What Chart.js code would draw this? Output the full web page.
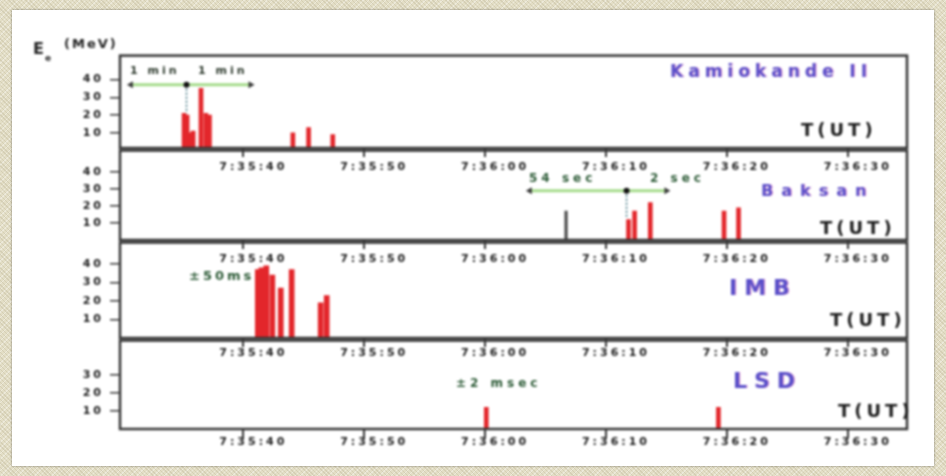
<!DOCTYPE html>
<html>
<head>
<meta charset="utf-8">
<script src="https://cdn.jsdelivr.net/npm/chart.js@4.4.1/dist/chart.umd.min.js"></script>
<style>
  html, body { margin: 0; padding: 0; }
  body {
    width: 946px; height: 476px; overflow: hidden; position: relative;
    background-color: #e3dec6;
    background-image:
      repeating-linear-gradient(45deg, rgba(140,128,90,0.16) 0 1px, transparent 1px 3px),
      repeating-linear-gradient(-45deg, rgba(255,255,255,0.35) 0 1px, transparent 1px 4px);
  }
  #card {
    position: absolute; left: 12px; top: 10px; width: 922px; height: 456px;
    background: #fff; box-shadow: 0 0 2px rgba(0,0,0,0.45);
  }
  #plot { position: absolute; left: 0; top: 0; width: 946px; height: 476px; filter: blur(0.9px); }
  .pane { position: absolute; left: 0; width: 946px; }
  .txt {
    position: absolute; white-space: nowrap; transform: translateY(-50%);
    font-family: "DejaVu Sans", sans-serif; font-weight: bold; line-height: 1;
  }
  .det { color: #5a4fc9; text-shadow: 1px 0 0 rgba(205,70,170,0.55); }
  .tut { color: #1e1e1e; font-size: 18px; letter-spacing: 4px; }
  .unc { color: #2c5a36; }
</style>
</head>
<body>
<div id="card"></div>
<div id="plot">
  <div class="pane" id="p0"><canvas id="c0"></canvas></div>
  <div class="pane" id="p1"><canvas id="c1"></canvas></div>
  <div class="pane" id="p2"><canvas id="c2"></canvas></div>
  <div class="pane" id="p3"><canvas id="c3"></canvas></div>

  <div class="txt" style="left:33px;top:49px;font-size:16px;color:#222;">E</div>
  <div class="txt" style="left:45px;top:58px;font-size:9px;color:#222;">e</div>
  <div class="txt" style="left:64px;top:43px;font-size:13px;color:#222;letter-spacing:2px;">(MeV)</div>

  <div class="txt" style="left:130px;top:70px;font-size:11px;color:#2f3b2f;letter-spacing:3px;">1 min</div>
  <div class="txt" style="left:198px;top:70px;font-size:11px;color:#2f3b2f;letter-spacing:3px;">1 min</div>
  <div class="txt det" style="left:670px;top:71px;font-size:17px;letter-spacing:5px;">Kamiokande II</div>
  <div class="txt tut" style="left:801px;top:130px;">T(UT)</div>

  <div class="txt unc" style="left:529px;top:178px;font-size:12px;letter-spacing:4px;">54 sec</div>
  <div class="txt unc" style="left:650px;top:178px;font-size:12px;letter-spacing:4px;">2 sec</div>
  <div class="txt det" style="left:761px;top:191px;font-size:16px;letter-spacing:8px;">Baksan</div>
  <div class="txt tut" style="left:820px;top:228px;">T(UT)</div>

  <div class="txt unc" style="left:189px;top:275px;font-size:13px;letter-spacing:3px;">±50ms</div>
  <div class="txt det" style="left:729px;top:288px;font-size:22px;letter-spacing:7px;">IMB</div>
  <div class="txt tut" style="left:830px;top:320px;">T(UT)</div>

  <div class="txt unc" style="left:456px;top:383px;font-size:12px;letter-spacing:4px;">±2 msec</div>
  <div class="txt det" style="left:733px;top:381px;font-size:22px;letter-spacing:7px;">LSD</div>
  <div class="txt tut" style="left:838px;top:411px;">T(UT)</div>
</div>

<script>
// Time axis: seconds after 7:35:00 UT
const tickSeconds = [40, 50, 60, 70, 80, 90];
const tickLabels = ["7:35:40", "7:35:50", "7:36:00", "7:36:10", "7:36:20", "7:36:30"];

// Kamiokande II events (s, MeV)
const kamTimes  = [35.1, 35.35, 35.6, 35.85, 36.5, 36.9, 37.2, 44.1, 45.4, 47.4];
const kamEnergy = [21, 20, 10, 11, 35, 21, 20, 10, 13, 9];
// Baksan events
const baksanTimes  = [71.7, 72.2, 73.5, 79.6, 80.8];
const baksanEnergy = [12, 17, 22, 17, 19];
const baksanBgTimes  = [66.8];
const baksanBgEnergy = [17];
// IMB events
const imbTimes  = [41.2, 41.5, 41.9, 42.4, 43.1, 44.0, 46.4, 46.9];
const imbEnergy = [37, 38, 39, 34, 27, 37, 19, 23];
// LSD events
const lsdTimes  = [60.1, 79.3];
const lsdEnergy = [12, 12];

// Clock uncertainty: [earliest, recorded, latest] and the energy level it is drawn at
const kamClock = [30.7, 35.3, 40.6];
const kamClockLevel = 37;
const kamClockDrop = 21;
const baksanClock = [63.7, 71.7, 75.0];
const baksanClockLevel = 29;
const baksanClockDrop = 13;

// Energy tick values per detector
const kamYTicks = [10, 20, 30, 40];
const baksanYTicks = [10, 20, 30, 40];
const imbYTicks = [10, 20, 30, 40];
const lsdYTicks = [10, 20, 30];

// ---- layout ----
const X_MIN = 29.8, X_MAX = 94.9;
const PAD_TOP = 10, X_AXIS_H = 30;
const panels = [
  { id: 0, top: 53,  bottom: 148, yMin: 1.5, yMax: 53.4, ticks: kamYTicks,    labelPad: 4 },
  { id: 1, top: 148, bottom: 240, yMin: 0,   yMax: 52.6, ticks: baksanYTicks, labelPad: 4 },
  { id: 2, top: 240, bottom: 338, yMin: 0,   yMax: 51.6, ticks: imbYTicks,    labelPad: 0 },
  { id: 3, top: 338, bottom: 429, yMin: 0,   yMax: 49.2, ticks: lsdYTicks,    labelPad: -2 }
];

const INK = '#363636';
const RED = '#e3262b';
const tickFont = { family: 'DejaVu Sans', size: 11, weight: 'bold' };

const pts = (xs, ys) => xs.map((x, i) => ({ x, y: ys[i] }));

function barSet(xs, ys, color, thick) {
  return { type: 'bar', data: pts(xs, ys), backgroundColor: color, barThickness: thick, order: 5 };
}
function clockSets(c, level, drop) {
  return [
    { type: 'line', data: [{ x: c[0], y: level }, { x: c[2], y: level }],
      borderColor: '#a6dc8c', borderWidth: 3, pointRadius: 4, pointStyle: 'triangle',
      pointRotation: [270, 90], pointBackgroundColor: '#3a3a3a', pointBorderWidth: 0, order: 3 },
    { type: 'line', data: [{ x: c[1], y: level }, { x: c[1], y: drop }],
      borderColor: '#3f7480', borderWidth: 1.5, borderDash: [2, 2], pointRadius: 0, order: 2 },
    { type: 'line', data: [{ x: c[1], y: level }], showLine: false,
      pointRadius: 3, pointBackgroundColor: '#111', pointBorderWidth: 0, order: 1 }
  ];
}

const datasets = [
  [barSet(kamTimes, kamEnergy, RED, 4), ...clockSets(kamClock, kamClockLevel, kamClockDrop)],
  [barSet(baksanBgTimes, baksanBgEnergy, '#4a4a4a', 2.5), barSet(baksanTimes, baksanEnergy, RED, 4),
   ...clockSets(baksanClock, baksanClockLevel, baksanClockDrop)],
  [barSet(imbTimes, imbEnergy, RED, 5)],
  [barSet(lsdTimes, lsdEnergy, RED, 4)]
];

// Panel frame around the plotting area
const framePlugin = {
  id: 'frame',
  beforeDraw(chart) { chart.ctx.letterSpacing = '3px'; },
  afterDraw(chart) {
    const { ctx, chartArea: a } = chart;
    ctx.save();
    ctx.strokeStyle = INK;
    ctx.lineWidth = 2.5;
    ctx.strokeRect(a.left, a.top, a.right - a.left, a.bottom - a.top);
    ctx.restore();
  }
};

panels.forEach(p => {
  const pane = document.getElementById('p' + p.id);
  const h = (p.bottom - p.top) + PAD_TOP + X_AXIS_H;
  pane.style.top = (p.top - PAD_TOP) + 'px';
  pane.style.height = h + 'px';
  new Chart(document.getElementById('c' + p.id), {
    type: 'bar',
    data: { datasets: datasets[p.id] },
    plugins: [framePlugin],
    options: {
      responsive: true, maintainAspectRatio: false, animation: false,
      layout: { padding: { left: 0, right: 39, top: PAD_TOP, bottom: 0 } },
      plugins: { legend: { display: false }, tooltip: { enabled: false } },
      scales: {
        x: {
          type: 'linear', min: X_MIN, max: X_MAX, offset: false,
          afterBuildTicks: s => { s.ticks = tickSeconds.map(v => ({ value: v })); },
          afterFit: s => { s.height = X_AXIS_H; },
          ticks: {
            callback: v => tickLabels[tickSeconds.indexOf(v)],
            font: tickFont, color: '#1c1c1c', maxRotation: 0, autoSkip: false,
            padding: p.labelPad, labelOffset: 10
          },
          grid: { offset: false, drawOnChartArea: false, drawTicks: true, tickLength: 9, color: INK, lineWidth: 2 },
          border: { display: false }
        },
        y: {
          min: p.yMin, max: p.yMax,
          afterBuildTicks: s => { s.ticks = p.ticks.map(v => ({ value: v })); },
          afterFit: s => { s.width = 120; },
          ticks: { font: tickFont, color: '#1c1c1c', padding: 6 },
          grid: { drawOnChartArea: false, drawTicks: true, tickLength: 10, color: INK, lineWidth: 1.5 },
          border: { display: false }
        }
      }
    }
  });
});
</script>
</body>
</html>
